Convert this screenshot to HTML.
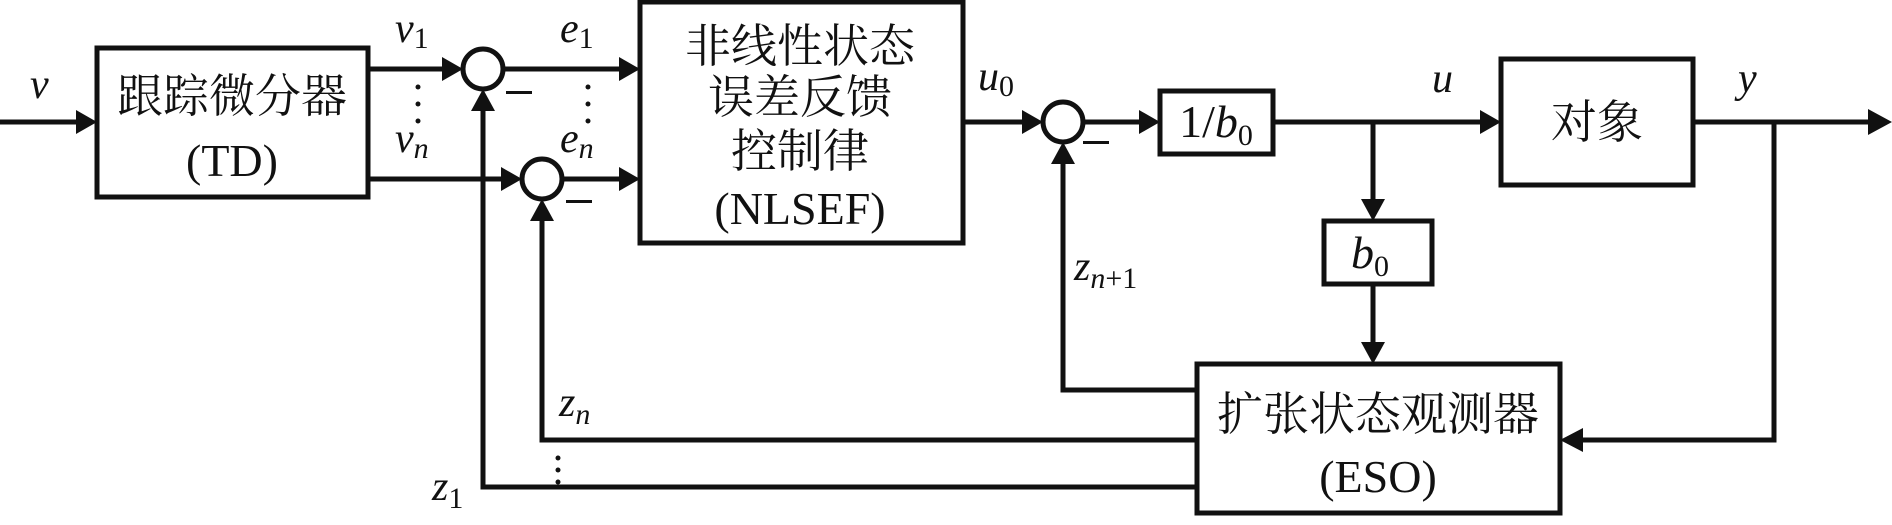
<!DOCTYPE html>
<html><head><meta charset="utf-8"><style>
html,body{margin:0;padding:0;background:#fff;}
svg{display:block;}
.c{font-family:"Liberation Serif","Noto Serif CJK SC",serif;font-size:46px;fill:#111;}
.l{font-family:"Liberation Serif",serif;font-style:italic;font-size:42px;fill:#111;}
.s{font-family:"Liberation Serif",serif;font-style:normal;font-size:30px;}
.si{font-family:"Liberation Serif",serif;font-style:italic;font-size:30px;}
</style></head><body>
<svg width="1892" height="525" viewBox="0 0 1892 525" xmlns="http://www.w3.org/2000/svg">
<defs>
<marker id="a" markerWidth="10" markerHeight="8" refX="10" refY="4" orient="auto" markerUnits="userSpaceOnUse" viewBox="0 0 10 8">
</marker>
</defs>
<g stroke="#111" stroke-width="5" fill="none">
<!-- boxes -->
<rect x="97" y="48" width="271" height="149"/>
<rect x="640" y="2" width="323" height="241"/>
<rect x="1160" y="91" width="113" height="63"/>
<rect x="1501" y="59" width="192" height="126"/>
<rect x="1324" y="221" width="108" height="63"/>
<rect x="1197" y="364" width="363" height="149"/>
<!-- circles -->
<circle cx="483" cy="69" r="20"/>
<circle cx="542" cy="179" r="20"/>
<circle cx="1063" cy="122" r="20"/>
<!-- lines -->
<polyline points="0,122 82,122"/>
<polyline points="368,69 450,69"/>
<polyline points="503,69 625,69"/>
<polyline points="368,179 509,179"/>
<polyline points="562,179 625,179"/>
<polyline points="1197,487 483,487 483,104"/>
<polyline points="1197,440 542,440 542,214"/>
<polyline points="1197,390 1063,390 1063,157"/>
<polyline points="963,122 1030,122"/>
<polyline points="1083,122 1145,122"/>
<polyline points="1273,122 1486,122"/>
<polyline points="1373,122 1373,206"/>
<polyline points="1373,284 1373,349"/>
<polyline points="1693,122 1875,122"/>
<polyline points="1774,122 1774,440 1575,440"/>
</g>
<g fill="#111">
<!-- arrowheads -->
<polygon points="97,122 76,110 76,134"/>
<polygon points="463,69 442,57 442,81"/>
<polygon points="640,69 619,57 619,81"/>
<polygon points="522,179 501,167 501,191"/>
<polygon points="640,179 619,167 619,191"/>
<polygon points="483,89 471,111 495,111"/>
<polygon points="542,199 530,221 554,221"/>
<polygon points="1063,142 1051,164 1075,164"/>
<polygon points="1043,122 1022,110 1022,134"/>
<polygon points="1160,122 1139,110 1139,134"/>
<polygon points="1501,122 1480,110 1480,134"/>
<polygon points="1373,221 1361,199 1385,199"/>
<polygon points="1373,364 1361,342 1385,342"/>
<polygon points="1892,122 1868,109 1868,135"/>
<polygon points="1560,440 1583,428 1583,452"/>
<!-- minus signs -->
<rect x="506" y="91" width="26" height="3"/>
<rect x="566" y="200" width="26" height="3"/>
<rect x="1083" y="141" width="26" height="3"/>
<!-- dots -->
<circle cx="418" cy="87" r="2.5"/><circle cx="418" cy="104" r="2.5"/><circle cx="418" cy="121" r="2.5"/>
<circle cx="588" cy="87" r="2.5"/><circle cx="588" cy="104" r="2.5"/><circle cx="588" cy="121" r="2.5"/>
<circle cx="558" cy="458" r="2.5"/><circle cx="558" cy="470" r="2.5"/><circle cx="558" cy="482" r="2.5"/>
</g>
<!-- block text -->
<text class="c" x="232" y="112" text-anchor="middle">跟踪微分器</text>
<text class="c" x="232" y="176" text-anchor="middle">(TD)</text>
<text class="c" x="800" y="62" text-anchor="middle">非线性状态</text>
<text class="c" x="800" y="113" text-anchor="middle">误差反馈</text>
<text class="c" x="800" y="167" text-anchor="middle">控制律</text>
<text class="c" x="800" y="224" text-anchor="middle">(NLSEF)</text>
<text class="c" x="1597" y="138" text-anchor="middle">对象</text>
<text class="c" x="1378" y="430" text-anchor="middle">扩张状态观测器</text>
<text class="c" x="1378" y="492" text-anchor="middle">(ESO)</text>
<text class="c" x="1216" y="137" text-anchor="middle">1/<tspan font-style="italic">b</tspan><tspan class="s" dy="8">0</tspan></text>
<text class="c" x="1370" y="268" text-anchor="middle"><tspan font-style="italic">b</tspan><tspan class="s" dy="8">0</tspan></text>
<!-- signal labels -->
<text class="l" x="30" y="98">v</text>
<text class="l" x="395" y="42">v<tspan class="s" dy="6">1</tspan></text>
<text class="l" x="395" y="152">v<tspan class="si" dy="6">n</tspan></text>
<text class="l" x="560" y="42">e<tspan class="s" dy="6">1</tspan></text>
<text class="l" x="560" y="152">e<tspan class="si" dy="6">n</tspan></text>
<text class="l" x="978" y="90">u<tspan class="s" dy="6">0</tspan></text>
<text class="l" x="1432" y="92">u</text>
<text class="l" x="1738" y="92">y</text>
<text class="l" x="1074" y="280">z<tspan class="si" dy="8">n</tspan><tspan class="s">+1</tspan></text>
<text class="l" x="559" y="416">z<tspan class="si" dy="8">n</tspan></text>
<text class="l" x="432" y="500">z<tspan class="s" dy="8">1</tspan></text>
</svg>
</body></html>
